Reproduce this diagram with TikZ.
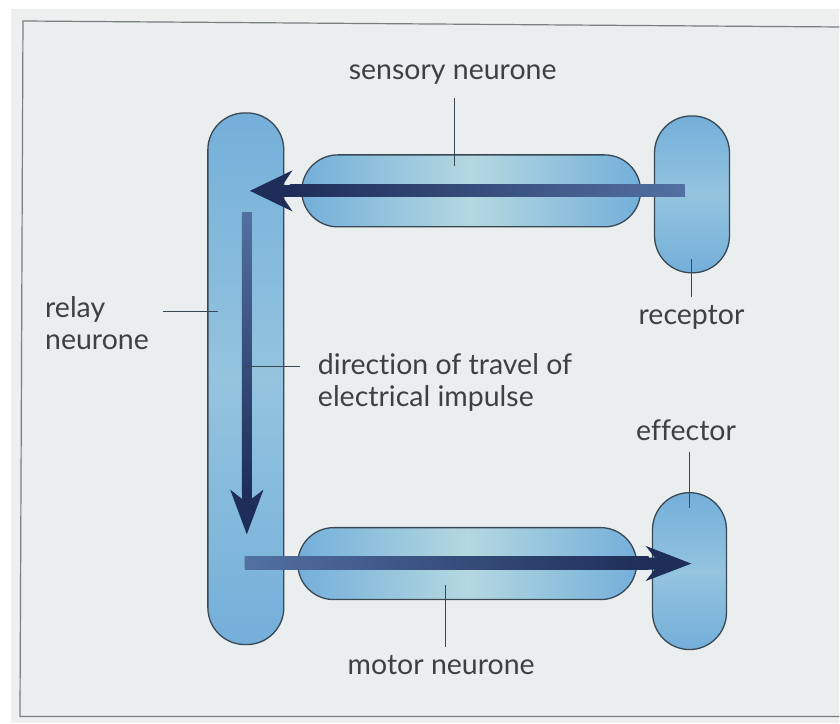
\documentclass[tikz,border=0pt]{standalone}
\usepackage{fontspec}
\setmainfont{Lato}[Ligatures=NoCommon]
\usetikzlibrary{arrows.meta,calc}
\definecolor{pagebg}{RGB}{238,240,240}
\definecolor{framebg}{RGB}{234,238,239}
\definecolor{framecol}{RGB}{120,125,128}
\definecolor{nblue}{RGB}{116,175,218}
\definecolor{nlight}{RGB}{180,216,224}
\definecolor{nmid}{RGB}{148,196,222}
\definecolor{outline}{RGB}{58,72,84}
\definecolor{navy}{RGB}{30,46,88}
\definecolor{navylight}{RGB}{82,112,162}
\definecolor{txt}{RGB}{62,64,66}
\tikzset{
  hneuron/.style={draw=outline, line width=1.3pt, rectangle, rounded corners=36pt,
    inner sep=0pt, minimum width=#1, minimum height=72pt,
    left color=nblue, right color=nblue, middle color=nlight},
  vneuron/.style={draw=outline, line width=1.3pt, rectangle, rounded corners=37pt,
    inner sep=0pt, minimum width=75pt, minimum height=#1,
    top color=nblue, bottom color=nblue, middle color=nmid},
  impulse/.style={draw=navy, line width=#1},
  lbl/.style={text=txt, font=\fontsize{28.5}{32}\selectfont, inner sep=0pt},
  lead/.style={draw=outline, line width=1.1pt}
}
\begin{document}
\begin{tikzpicture}[x=1pt,y=-1pt]
\fill[white] (0,0) rectangle (840,724);
\fill[pagebg] (11,9) rectangle (840,724);
\fill[framebg] (23,21) -- (840,27) -- (840,717) -- (20,717) -- cycle;
\draw[framecol, line width=1.2pt] (840,27) -- (23,21) -- (20,717) -- (840,717);
\useasboundingbox (0,0) rectangle (840,724);

% neurones
\node[vneuron=532pt, minimum width=76pt] (relay) at (246,379) {};
\node[hneuron=339pt] (sensory) at (471.5,191) {};
\node[vneuron=157pt] (receptor) at (692.5,194.5) {};
\node[hneuron=339pt] (motor) at (467.5,564) {};
\node[vneuron=157pt, minimum width=74pt] (effector) at (690,571.5) {};

% impulse arrows
\coordinate (sTail) at (685,191);
\coordinate (sTip) at (250,191);
\draw[impulse=12pt, -{Stealth[length=42pt,width=40pt,inset=13pt]}] (sTail) -- (sTip);
\shade[left color=navy, right color=navylight] ($(sTip)+(40,-6)$) rectangle ($(sTail)+(0,6)$);

\coordinate (vTail) at (247,213);
\coordinate (vTip) at (247,535);
\draw[impulse=10pt, -{Stealth[length=44pt,width=32pt,inset=12pt]}] (vTail) -- (vTip);
\shade[top color=navylight, bottom color=navy] ($(vTail)+(-5,0)$) rectangle ($(vTip)+(5,-42)$);

\coordinate (mTail) at (245,563);
\coordinate (mTip) at (692,564);
\draw[impulse=12pt, -{Stealth[length=45pt,width=34pt,inset=13pt]}] (mTail) -- (mTip);
\shade[left color=navylight, right color=navy] ($(mTail)+(0,-6)$) rectangle ($(mTip)+(-43,6)$);

% labels
\node[lbl, anchor=base] (tSens) at (453,80) {sensory neurone};
\coordinate (sensA) at (455,98);
\coordinate (sensB) at (455,166);
\draw[lead] (sensA) -- (sensB);

\node[lbl, anchor=north west, align=left] (tRelay) at (45,297) {relay\\neurone};
\coordinate (relA) at (163,312);
\coordinate (relB) at (218,312);
\draw[lead] (relA) -- (relB);

\node[lbl, anchor=north west, align=left] (tDir) at (318,354) {direction of travel of\\electrical impulse};
\coordinate (dirA) at (243,367);
\coordinate (dirB) at (300,367);
\draw[lead] (dirA) -- (dirB);

\node[lbl, anchor=base] (tRec) at (692,325) {receptor};
\coordinate (recA) at (692,259);
\coordinate (recB) at (692,297);
\draw[lead] (recA) -- (recB);

\node[lbl, anchor=base] (tEff) at (686.5,441) {effector};
\coordinate (effA) at (690,452);
\coordinate (effB) at (690,508);
\draw[lead] (effA) -- (effB);

\node[lbl, anchor=base] (tMot) at (441.5,675) {motor neurone};
\coordinate (motA) at (446,585);
\coordinate (motB) at (446,647);
\draw[lead] (motA) -- (motB);
\end{tikzpicture}
\end{document}
